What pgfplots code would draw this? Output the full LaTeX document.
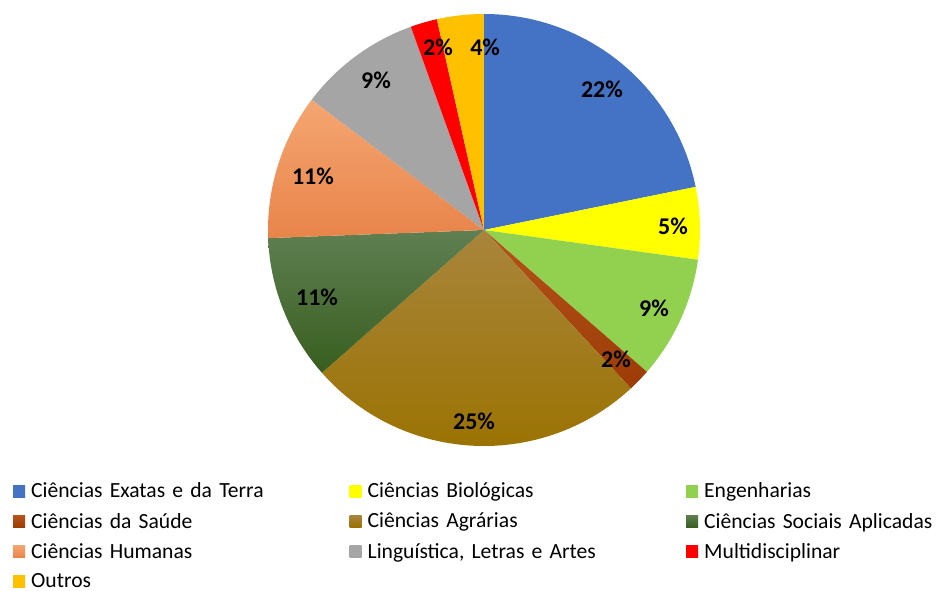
\documentclass[border=0pt]{standalone}
\usepackage{fontspec}
\setmainfont{Carlito}
\usepackage{pgfplots}
\usepackage{pgfplotstable}
\pgfplotsset{compat=1.18}

\definecolor{exatas}{HTML}{4472C4}
\definecolor{biol}{HTML}{FFFF00}
\definecolor{engen}{HTML}{92D050}
\definecolor{saudeT}{HTML}{B4541A}
\definecolor{saudeB}{HTML}{9C3B06}
\definecolor{agrT}{HTML}{A9853C}
\definecolor{agrB}{HTML}{9A7200}
\definecolor{socT}{HTML}{5F7F52}
\definecolor{socB}{HTML}{385E1F}
\definecolor{humT}{HTML}{F5A672}
\definecolor{humB}{HTML}{E8844A}
\definecolor{ling}{HTML}{A5A5A5}
\definecolor{multi}{HTML}{FF0000}
\definecolor{outros}{HTML}{FFC000}

% share (%), printed label, label position (axis units), gradient colours
\pgfplotstableread[col sep=semicolon]{
area;value;pct;lx;ly;top;bot
Ciências Exatas e da Terra;21.8;22;0.546;0.653;exatas;exatas
Ciências Biológicas;5.4;5;0.875;0.019;biol;biol
Engenharias;9.2;9;0.787;-0.361;engen;engen
Ciências da Saúde;1.7;2;0.611;-0.597;saudeT;saudeB
Ciências Agrárias;25.4;25;-0.046;-0.884;agrT;agrB
Ciências Sociais Aplicadas;10.9;11;-0.773;-0.310;socT;socB
Ciências Humanas;10.9;11;-0.792;0.250;humT;humB
Linguística, Letras e Artes;9.2;9;-0.500;0.694;ling;ling
Multidisciplinar;2.0;2;-0.213;0.847;multi;multi
Outros;3.5;4;0.005;0.847;outros;outros
}\piedata

\def\pieR{216pt}
\pgfplotsset{
  pieleg/.style={legend image code/.code={\shade[##1,draw=none] (0pt,-6pt) rectangle (12pt,6pt);}},
}

\begin{document}
\begin{tikzpicture}[x=1pt,y=1pt]
\useasboundingbox (0,0) rectangle (936,591);

% build the slices, labels and legend entries from the table
\pgfplotstablegetrowsof{\piedata}
\pgfmathtruncatemacro\lastrow{\pgfplotsretval-1}
\gdef\pieitems{}
\gdef\pielabels{}
\gdef\piecum{90}
\foreach \i in {0,...,\lastrow}{%
  \pgfplotstablegetelem{\i}{value}\of\piedata \let\v\pgfplotsretval
  \pgfplotstablegetelem{\i}{pct}\of\piedata \let\p\pgfplotsretval
  \pgfplotstablegetelem{\i}{lx}\of\piedata \let\lx\pgfplotsretval
  \pgfplotstablegetelem{\i}{ly}\of\piedata \let\ly\pgfplotsretval
  \pgfplotstablegetelem{\i}{top}\of\piedata \let\ct\pgfplotsretval
  \pgfplotstablegetelem{\i}{bot}\of\piedata \let\cb\pgfplotsretval
  \pgfplotstablegetelem{\i}{area}\of\piedata \let\nm\pgfplotsretval
  \pgfmathsetmacro\aone{\piecum}
  \pgfmathsetmacro\atwo{\piecum-3.6*\v}
  \pgfmathsetmacro\xa{cos(\aone)}
  \pgfmathsetmacro\ya{sin(\aone)}
  \xdef\piecum{\atwo}
  \xdef\pieitems{\unexpanded\expandafter{\pieitems}%
    \noexpand\shade[top color=\ct,bottom color=\cb] (axis cs:0,0) -- (axis cs:\xa,\ya)
      arc[start angle=\aone,end angle=\atwo,radius=\pieR] -- cycle;%
    \noexpand\addlegendimage{pieleg,top color=\ct,bottom color=\cb}%
    \noexpand\addlegendentry{\unexpanded\expandafter{\nm}}%
  }%
  \xdef\pielabels{\unexpanded\expandafter{\pielabels}%
    \noexpand\node[font=\noexpand\fontsize{24}{28}\noexpand\selectfont\noexpand\bfseries]
      at (axis cs:\lx,\ly) {\p\noexpand\%};%
  }%
}

\begin{axis}[
    at={(484pt,361pt)}, anchor=center,
    scale only axis, width=432pt, height=432pt,
    xmin=-1, xmax=1, ymin=-1, ymax=1,
    hide axis, clip=false,
    legend columns=3,
    legend cell align=left,
    legend style={at={(-0.5903,-0.080)}, anchor=north west,
      draw=none, fill=none, inner sep=0pt,
      font=\fontsize{21.6}{25}\selectfont, row sep=9.8pt,
      /tikz/every odd column/.append style={column sep=4pt},
      /tikz/every even column/.append style={column sep=18pt, text width=298.5pt, align=left}},
  ]
  \pieitems
  \pielabels
\end{axis}
\end{tikzpicture}
\end{document}
